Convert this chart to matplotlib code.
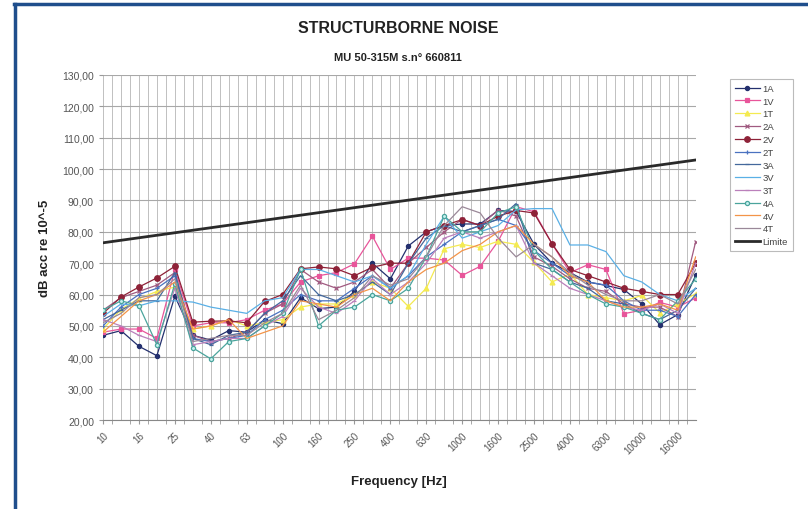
import numpy as np
import matplotlib
matplotlib.use("Agg")
import matplotlib.pyplot as plt
from matplotlib.ticker import FuncFormatter, MultipleLocator

plt.rcParams['font.family'] = ['Liberation Sans', 'DejaVu Sans']

# bande terzi d'ottava
freqs = ["10", "12.5", "16", "20", "25", "31.5", "40", "50", "63", "80", "100", "125",
         "160", "200", "250", "315", "400", "500", "630", "800", "1000", "1250",
         "1600", "2000", "2500", "3150", "4000", "5000", "6300", "8000", "10000",
         "12500", "16000", "20000"]

s_1A = [47, 48.5, 43.5, 40.5, 59.5, 47, 45.5, 48.5, 48, 52, 50.7, 59, 55.5, 56, 61, 70, 65,
        75.5, 80, 82, 82.5, 82.5, 86.8, 86.5, 76, 70, 67, 64, 62.9, 61.6, 57, 50.4, 53.6, 66.1]
s_1V = [48, 49, 49, 46, 68, 50, 51, 51, 52, 55, 57, 64, 66, 67, 69.8, 78.6, 68, 71.6, 71.6, 71,
        66.1, 69, 77, 88, 86.4, 76.2, 67, 69.5, 68, 53.9, 55, 57.5, 56, 58.9]
s_1T = [49, 55.3, 58.7, 61, 62.4, 49, 50, 52, 50, 51, 52, 56, 57, 57, 60, 64, 62, 56.2, 62,
        74.6, 76, 75, 77, 76, 70.3, 64, 66.6, 60, 59, 58, 59.7, 54.2, 57, 60.3]
s_2A = [55, 59, 61, 63, 67, 47, 45, 46, 48, 54, 57, 68, 64, 62, 64, 68, 62, 70, 75, 80, 84,
        82, 87, 85, 72, 69, 65, 62, 61, 57, 56, 56, 53, 76.9]
s_2V = [54, 59.2, 62.4, 65.3, 69, 51.2, 51.5, 51.6, 51, 57.8, 60, 68.2, 68.8, 68.2, 66, 68.7,
        70, 70, 80, 82, 83.9, 82, 85, 86.8, 86, 76.2, 68, 66, 64, 62, 61, 60, 60, 70]
s_2T = [50, 56, 60, 62, 66, 46, 45, 46, 47, 52, 55, 60, 58, 58, 62, 66, 62, 66, 72, 76, 80,
        82, 84, 82, 74, 70, 66, 64, 63, 58, 55, 55, 53, 60]
s_3A = [52, 55, 58, 58, 67, 46, 44, 47, 48, 54, 58, 66, 60, 58, 60, 64, 60, 70, 78, 82, 80,
        82, 84, 89, 70, 68, 64, 62, 58, 57, 54, 52, 55, 62]
s_3V = [53, 57, 56.4, 58, 58, 57.6, 56, 55, 54, 58, 59, 68, 68, 66, 64, 66, 62, 66, 76, 85,
        78, 80, 82, 87, 87.4, 87.4, 75.8, 75.8, 73.7, 66, 64, 60, 58, 62]
s_3T = [52, 50, 47, 45, 62, 44, 45, 46, 46, 50, 53, 62, 56, 54, 58, 65, 60, 64, 70, 78, 80,
        78, 80, 82, 70, 66, 62, 60, 58, 56, 55, 57, 54, 70]
s_4A = [55, 58, 56.5, 44, 63.5, 43, 39.5, 45, 46, 50, 54, 68, 50, 55, 56, 60, 58, 62, 72, 85,
        80, 80, 86, 88, 74, 68, 64, 60, 57, 56, 54, 52, 58, 65]
s_4V = [48, 53, 58, 60, 64, 49, 50, 52, 46, 48, 50, 58, 57, 56, 60, 62, 58, 64, 68, 70, 74,
        76, 80, 82, 76, 72, 66, 64, 58, 56, 56, 57, 55, 72]
s_4T = [51, 54, 59, 60, 65, 45, 46, 47, 47, 51, 54, 63, 52, 55, 59, 66, 63, 65, 72, 82, 88,
        86, 78, 72, 76, 72, 67, 63, 60, 58, 58, 60, 57, 68]
limite = [76.5 + 0.8 * i for i in range(len(freqs))]

series = [
    ("1A", s_1A, "#24306e", "o", 3),
    ("1V", s_1V, "#e8559a", "s", 3.5),
    ("1T", s_1T, "#f4ea50", "^", 3.5),
    ("2A", s_2A, "#a05a80", "x", 3),
    ("2V", s_2V, "#8e2238", "o", 4),
    ("2T", s_2T, "#4a72c0", "+", 3.5),
    ("3A", s_3A, "#44689c", "_", 3.5),
    ("3V", s_3V, "#5ab0e6", "", 0),
    ("3T", s_3T, "#bb80bb", "_", 3.5),
    ("4A", s_4A, "#4aa49c", "o", 3),
    ("4V", s_4V, "#f39448", "", 0),
    ("4T", s_4T, "#9a8898", "", 0),
]

fig = plt.figure(figsize=(8.08, 5.10), dpi=100)
fig.patch.set_facecolor("white")

# cornice blu
fig.add_artist(plt.Line2D([0.018, 0.018], [0.0, 0.99], color="#1f4e8c", lw=2.5,
                          transform=fig.transFigure))
fig.add_artist(plt.Line2D([0.017, 1.0], [0.99, 0.99], color="#1f4e8c", lw=2.5,
                          transform=fig.transFigure))

ax = fig.add_axes([0.1275, 0.1745, 0.7335, 0.6765])
x = np.arange(len(freqs))

for name, vals, col, mk, ms in series:
    mfc = col
    if name == "4A":
        mfc = "#c8f2f0"
    ax.plot(x, vals, color=col, lw=0.9, marker=mk if mk else None, ms=ms,
            mfc=mfc, mec=col, mew=0.9, label=name, zorder=3)
ax.plot(x, limite, color="#2a2a2a", lw=2.0, label="Limite", zorder=4)

ax.set_xlim(0, len(freqs) - 1)
ax.set_ylim(20, 130)
ax.yaxis.set_major_locator(MultipleLocator(10))
ax.yaxis.set_major_formatter(FuncFormatter(lambda v, p: f"{v:.2f}".replace(".", ",")))

ax.set_xticks(x[::2])
ax.set_xticklabels(freqs[::2], rotation=45, ha="right", rotation_mode="anchor")
ax.set_xticks(np.arange(0.5, len(freqs) - 1, 1.0), minor=True)

# griglia: una linea per banda e una intermedia
ax.grid(True, which="major", axis="y", color="#a8a8a8", lw=0.8)
ax.grid(True, which="minor", axis="x", color="#c0c0c0", lw=0.7)
for xi in x:
    ax.axvline(xi, color="#c0c0c0", lw=0.7, zorder=0)

for s in ["top", "right", "left"]:
    ax.spines[s].set_visible(False)
ax.spines["bottom"].set_color("#888888")
ax.tick_params(axis="x", which="both", length=3, color="#999999", labelsize=7,
               labelcolor="#555555", pad=4)
ax.tick_params(axis="y", length=3, color="#999999", labelsize=7.5, labelcolor="#555555")

ax.set_ylabel("dB acc re 10^-5", fontsize=9.5, fontweight="bold", color="#222222",
              labelpad=8)
ax.set_xlabel("Frequency [Hz]", fontsize=9.5, fontweight="bold", color="#222222",
              labelpad=14)

fig.text(0.493, 0.945, "STRUCTURBORNE NOISE", ha="center", va="center",
         fontsize=11.5, fontweight="bold", color="#222222")
fig.text(0.493, 0.887, "MU 50-315M s.n° 660811", ha="center", va="center",
         fontsize=8, fontweight="bold", color="#222222")

leg = ax.legend(loc="upper left", bbox_to_anchor=(0.898, 0.852), bbox_transform=fig.transFigure,
                fontsize=6.8, frameon=True, fancybox=False, handlelength=2.6,
                labelspacing=0.4, borderpad=0.5, handletextpad=0.3)
leg.get_frame().set_edgecolor("#aaaaaa")
leg.get_frame().set_linewidth(0.8)
for t in leg.get_texts():
    t.set_color("#444444")

fig.savefig("out.png", dpi=100, facecolor="white")
